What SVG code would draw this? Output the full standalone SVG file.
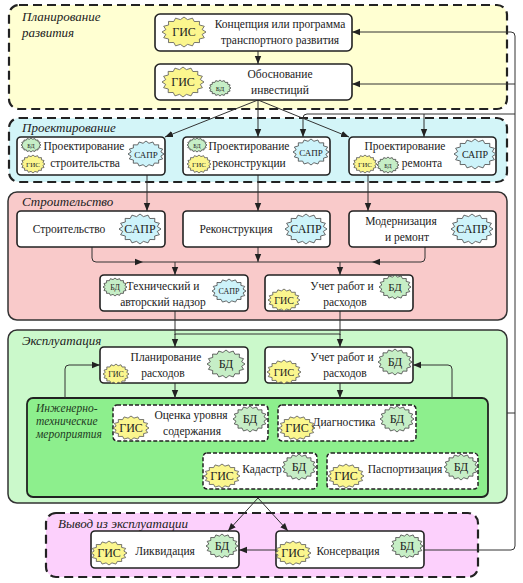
<svg xmlns="http://www.w3.org/2000/svg" xmlns:xlink="http://www.w3.org/1999/xlink" width="523" height="583" viewBox="0 0 523 583">
<style>
text{font-family:"Liberation Serif","Times New Roman","DejaVu Serif",serif;fill:#222}
.t{font-size:11.5px;text-anchor:middle}
.zt{font-size:13px;font-style:italic}
.it{font-size:11.5px;font-style:italic;fill:#1f3a1f}
.zd{stroke:#222;stroke-width:2.2;stroke-dasharray:9,5}
.zs{stroke:#333;stroke-width:1.5}
.n{fill:#fff;stroke:#222;stroke-width:1.6}
.nd{fill:#fff;stroke:#222;stroke-width:1.5;stroke-dasharray:4,2}
.gis{fill:#fbf68e;stroke:#555;stroke-width:0.8}
.bd{fill:#c6eec6;stroke:#444;stroke-width:0.8}
.sapr{fill:#cdf3fa;stroke:#444;stroke-width:0.8}
.bt{text-anchor:middle;fill:#222}
.c path{fill:none;stroke:#333;stroke-width:1}
.c path.a{marker-end:url(#arr)}
</style>
<defs>
<marker id="arr" viewBox="0 0 10 10" refX="10" refY="5" markerWidth="8" markerHeight="8" markerUnits="userSpaceOnUse" orient="auto">
<path d="M0,1 L10,5 L0,9 z" fill="#222"/>
</marker>
<path id="burst" vector-effect="non-scaling-stroke" d="M1,0 L0.824,0.164 L0.924,0.383 L0.698,0.467 L0.707,0.707 L0.467,0.698 L0.383,0.924 L0.164,0.824 L0,1 L-0.164,0.824 L-0.383,0.924 L-0.467,0.698 L-0.707,0.707 L-0.698,0.467 L-0.924,0.383 L-0.824,0.164 L-1,0 L-0.824,-0.164 L-0.924,-0.383 L-0.698,-0.467 L-0.707,-0.707 L-0.467,-0.698 L-0.383,-0.924 L-0.164,-0.824 L0,-1 L0.164,-0.824 L0.383,-0.924 L0.467,-0.698 L0.707,-0.707 L0.698,-0.467 L0.924,-0.383 L0.824,-0.164 z"/>
</defs>
<rect width="523" height="583" fill="#fff"/>

<!-- zones -->
<g id="zone-planning">
<rect x="9" y="5" width="498" height="104" rx="10" fill="#ffffd2" class="zd"/>
<text class="zt" x="22" y="21">Планирование</text>
<text class="zt" x="22" y="37">развития</text>
</g>
<g id="zone-design">
<rect x="9" y="118" width="498" height="64" rx="10" fill="#d3f5f8" class="zd"/>
<text class="zt" x="22" y="132">Проектирование</text>
</g>
<g id="zone-construction">
<rect x="8" y="192" width="499" height="128" rx="9" fill="#f9caca" class="zs"/>
<text class="zt" x="22" y="206">Строительство</text>
</g>
<g id="zone-operation">
<rect x="8" y="330" width="499" height="173" rx="9" fill="#cbf9cb" class="zs"/>
<text class="zt" x="22" y="345">Эксплуатация</text>
</g>
<g id="zone-engineering">
<rect x="27" y="398" width="461" height="99" rx="6" fill="#8def8d" stroke="#222" stroke-width="1.8"/>
<text class="it" x="36" y="412">Инженерно-</text>
<text class="it" x="36" y="425">технические</text>
<text class="it" x="36" y="438">мероприятия</text>
</g>
<g id="zone-decommission">
<rect x="46" y="513" width="432" height="64" rx="10" fill="#fcd0fc" class="zd"/>
<text class="zt" x="58" y="528">Вывод из эксплуатации</text>
</g>

<!-- connectors -->
<g id="connectors" class="c">
<path class="a" d="M258,51 V64"/>
<path class="a" d="M258,100 L165,137"/>
<path class="a" d="M258,100 V137"/>
<path class="a" d="M258,100 L349,137"/>
<path class="a" d="M147,175 V211"/>
<path class="a" d="M258,175 V211"/>
<path class="a" d="M368,175 V211"/>
<path class="a" d="M92,247 V258 Q92,262 96,262 H143"/>
<path class="a" d="M425,247 V258 Q425,262 421,262 H372"/>
<path d="M143,262 H372"/>
<path class="a" d="M258,247 V262"/>
<path class="a" d="M175,262 V275"/>
<path class="a" d="M340,262 V275"/>
<path d="M175,311 V335 M340,311 V335 M175,334 H340"/>
<path class="a" d="M175,334 V347"/>
<path class="a" d="M340,334 V347"/>
<path class="a" d="M175,383 V398"/>
<path class="a" d="M340,383 V398"/>
<path class="a" d="M65,398 V369 Q65,365 69,365 H100"/>
<path class="a" d="M452,398 V369 Q452,365 448,365 H413"/>
<path class="a" d="M258,498 L228,531"/>
<path class="a" d="M258,498 L288,531"/>
<path class="a" d="M276,550 H239"/>
<path class="a" d="M424,550 H511 Q515,550 515,546 V36 Q515,32 511,32 H352"/>
<path class="a" d="M515,84 H352"/>
<path class="a" d="M515,114 H307 Q303,114 303,118 V137"/>
<path class="a" d="M424,114 V137"/>
<path d="M507,413 H515"/>
</g>

<!-- Planning -->
<g id="node-concept">
<rect class="n" x="155" y="14" width="197" height="37" rx="5"/>
<use xlink:href="#burst" class="gis" transform="translate(184,32) scale(22,15)"/>
<text class="bt" x="184" y="36" font-size="12">ГИС</text>
<text class="t" x="280" y="28">Концепция или программа</text>
<text class="t" x="280" y="44">транспортного развития</text>
</g>
<g id="node-investment">
<rect class="n" x="155" y="64" width="197" height="36" rx="5"/>
<use xlink:href="#burst" class="gis" transform="translate(183,82) scale(21,15)"/>
<text class="bt" x="183" y="86" font-size="12">ГИС</text>
<use xlink:href="#burst" class="bd" transform="translate(220,88) scale(11,8)"/>
<text class="bt" x="220" y="90.5" font-size="7">БД</text>
<text class="t" x="280" y="78">Обоснование</text>
<text class="t" x="280" y="94">инвестиций</text>
</g>

<!-- Design -->
<g id="node-design-build">
<rect class="n" x="17" y="137" width="148" height="38" rx="4"/>
<use xlink:href="#burst" class="bd" transform="translate(31,145) scale(10,7)"/>
<text class="bt" x="31" y="147.5" font-size="6">БД</text>
<use xlink:href="#burst" class="gis" transform="translate(33,164) scale(12,9)"/>
<text class="bt" x="33" y="166.5" font-size="7">ГИС</text>
<use xlink:href="#burst" class="sapr" transform="translate(146,154) scale(18,13)"/>
<text class="bt" x="146" y="157.5" font-size="9">САПР</text>
<text class="t" x="84" y="150">Проектирование</text>
<text class="t" x="85" y="167">строительства</text>
</g>
<g id="node-design-recon">
<rect class="n" x="183" y="137" width="147" height="38" rx="4"/>
<use xlink:href="#burst" class="bd" transform="translate(197,145) scale(10,7)"/>
<text class="bt" x="197" y="147.5" font-size="6">БД</text>
<use xlink:href="#burst" class="gis" transform="translate(199,164) scale(12,9)"/>
<text class="bt" x="199" y="166.5" font-size="7">ГИС</text>
<use xlink:href="#burst" class="sapr" transform="translate(311,152) scale(18,13)"/>
<text class="bt" x="311" y="155.5" font-size="9">САПР</text>
<text class="t" x="249" y="150">Проектирование</text>
<text class="t" x="249" y="167">реконструкции</text>
</g>
<g id="node-design-repair">
<rect class="n" x="349" y="137" width="147" height="38" rx="4"/>
<use xlink:href="#burst" class="gis" transform="translate(365,164) scale(12,9)"/>
<text class="bt" x="365" y="166.5" font-size="7">ГИС</text>
<use xlink:href="#burst" class="bd" transform="translate(388,165) scale(11,8)"/>
<text class="bt" x="388" y="167.5" font-size="6">БД</text>
<use xlink:href="#burst" class="sapr" transform="translate(475,154) scale(21,15)"/>
<text class="bt" x="475" y="157.5" font-size="10">САПР</text>
<text class="t" x="405" y="150">Проектирование</text>
<text class="t" x="422" y="167">ремонта</text>
</g>

<!-- Construction -->
<g id="node-build">
<rect class="n" x="17" y="211" width="148" height="36" rx="4"/>
<use xlink:href="#burst" class="sapr" transform="translate(140,229) scale(21,15)"/>
<text class="bt" x="140" y="233" font-size="12">САПР</text>
<text class="t" x="69" y="233">Строительство</text>
</g>
<g id="node-recon">
<rect class="n" x="183" y="211" width="147" height="36" rx="4"/>
<use xlink:href="#burst" class="sapr" transform="translate(306,229) scale(21,15)"/>
<text class="bt" x="306" y="233" font-size="12">САПР</text>
<text class="t" x="236" y="233">Реконструкция</text>
</g>
<g id="node-modern">
<rect class="n" x="349" y="211" width="147" height="36" rx="4"/>
<use xlink:href="#burst" class="sapr" transform="translate(472,229) scale(21,15)"/>
<text class="bt" x="472" y="233" font-size="12">САПР</text>
<text class="t" x="401" y="225">Модернизация</text>
<text class="t" x="407" y="241">и ремонт</text>
</g>
<g id="node-supervision">
<rect class="n" x="100" y="275" width="148" height="36" rx="4"/>
<use xlink:href="#burst" class="bd" transform="translate(115,287) scale(12,9)"/>
<text class="bt" x="115" y="290" font-size="8">БД</text>
<use xlink:href="#burst" class="sapr" transform="translate(229,291) scale(17,12)"/>
<text class="bt" x="229" y="294" font-size="8">САПР</text>
<text class="t" x="163" y="290">Технический и</text>
<text class="t" x="163" y="306">авторский надзор</text>
</g>
<g id="node-accounting1">
<rect class="n" x="265" y="275" width="148" height="36" rx="4"/>
<use xlink:href="#burst" class="gis" transform="translate(284,300) scale(16,11)"/>
<text class="bt" x="284" y="303.5" font-size="10">ГИС</text>
<use xlink:href="#burst" class="bd" transform="translate(395,287) scale(16,12)"/>
<text class="bt" x="395" y="291" font-size="11">БД</text>
<text class="t" x="342" y="290">Учет работ и</text>
<text class="t" x="345" y="306">расходов</text>
</g>

<!-- Operation -->
<g id="node-costplan">
<rect class="n" x="100" y="347" width="148" height="36" rx="4"/>
<use xlink:href="#burst" class="gis" transform="translate(116,374) scale(13,10)"/>
<text class="bt" x="116" y="376.5" font-size="8">ГИС</text>
<use xlink:href="#burst" class="bd" transform="translate(226,364) scale(19,14)"/>
<text class="bt" x="226" y="368" font-size="12">БД</text>
<text class="t" x="166" y="361">Планирование</text>
<text class="t" x="163" y="377">расходов</text>
</g>
<g id="node-accounting2">
<rect class="n" x="265" y="347" width="148" height="36" rx="4"/>
<use xlink:href="#burst" class="gis" transform="translate(284,372) scale(17,12)"/>
<text class="bt" x="284" y="375.5" font-size="10.5">ГИС</text>
<use xlink:href="#burst" class="bd" transform="translate(395,362) scale(17,13)"/>
<text class="bt" x="395" y="366" font-size="12">БД</text>
<text class="t" x="342" y="361">Учет работ и</text>
<text class="t" x="345" y="377">расходов</text>
</g>
<g id="node-maintenance">
<rect class="nd" x="113" y="405" width="155" height="36" rx="4"/>
<use xlink:href="#burst" class="gis" transform="translate(131,428) scale(18,12)"/>
<text class="bt" x="131" y="432" font-size="12">ГИС</text>
<use xlink:href="#burst" class="bd" transform="translate(250,419) scale(17,13)"/>
<text class="bt" x="250" y="423" font-size="12">БД</text>
<text class="t" x="191" y="419">Оценка уровня</text>
<text class="t" x="192" y="435">содержания</text>
</g>
<g id="node-diagnostics">
<rect class="nd" x="278" y="405" width="138" height="36" rx="4"/>
<use xlink:href="#burst" class="gis" transform="translate(297,428) scale(18,12)"/>
<text class="bt" x="297" y="432" font-size="12">ГИС</text>
<use xlink:href="#burst" class="bd" transform="translate(397,419) scale(17,13)"/>
<text class="bt" x="397" y="423" font-size="12">БД</text>
<text class="t" x="344" y="426">Диагностика</text>
</g>
<g id="node-cadastre">
<rect class="nd" x="203" y="453" width="114" height="36" rx="4"/>
<use xlink:href="#burst" class="gis" transform="translate(222,476) scale(18,12)"/>
<text class="bt" x="222" y="480" font-size="12">ГИС</text>
<use xlink:href="#burst" class="bd" transform="translate(299,467) scale(17,13)"/>
<text class="bt" x="299" y="471" font-size="12">БД</text>
<text class="t" x="262" y="473">Кадастр</text>
</g>
<g id="node-passport">
<rect class="nd" x="327" y="453" width="151" height="36" rx="4"/>
<use xlink:href="#burst" class="gis" transform="translate(346,476) scale(18,12)"/>
<text class="bt" x="346" y="480" font-size="12">ГИС</text>
<use xlink:href="#burst" class="bd" transform="translate(461,467) scale(17,13)"/>
<text class="bt" x="461" y="471" font-size="12">БД</text>
<text class="t" x="405" y="473">Паспортизация</text>
</g>

<!-- Decommission -->
<g id="node-liquidation">
<rect class="n" x="91" y="531" width="148" height="37" rx="4"/>
<use xlink:href="#burst" class="gis" transform="translate(109,553) scale(18,12)"/>
<text class="bt" x="109" y="557" font-size="12">ГИС</text>
<use xlink:href="#burst" class="bd" transform="translate(222,546) scale(16,12)"/>
<text class="bt" x="222" y="550" font-size="12">БД</text>
<text class="t" x="165" y="555">Ликвидация</text>
</g>
<g id="node-conservation">
<rect class="n" x="276" y="531" width="148" height="37" rx="4"/>
<use xlink:href="#burst" class="gis" transform="translate(293,553) scale(18,12)"/>
<text class="bt" x="293" y="557" font-size="12">ГИС</text>
<use xlink:href="#burst" class="bd" transform="translate(407,546) scale(16,12)"/>
<text class="bt" x="407" y="550" font-size="12">БД</text>
<text class="t" x="348" y="555">Консервация</text>
</g>
</svg>
